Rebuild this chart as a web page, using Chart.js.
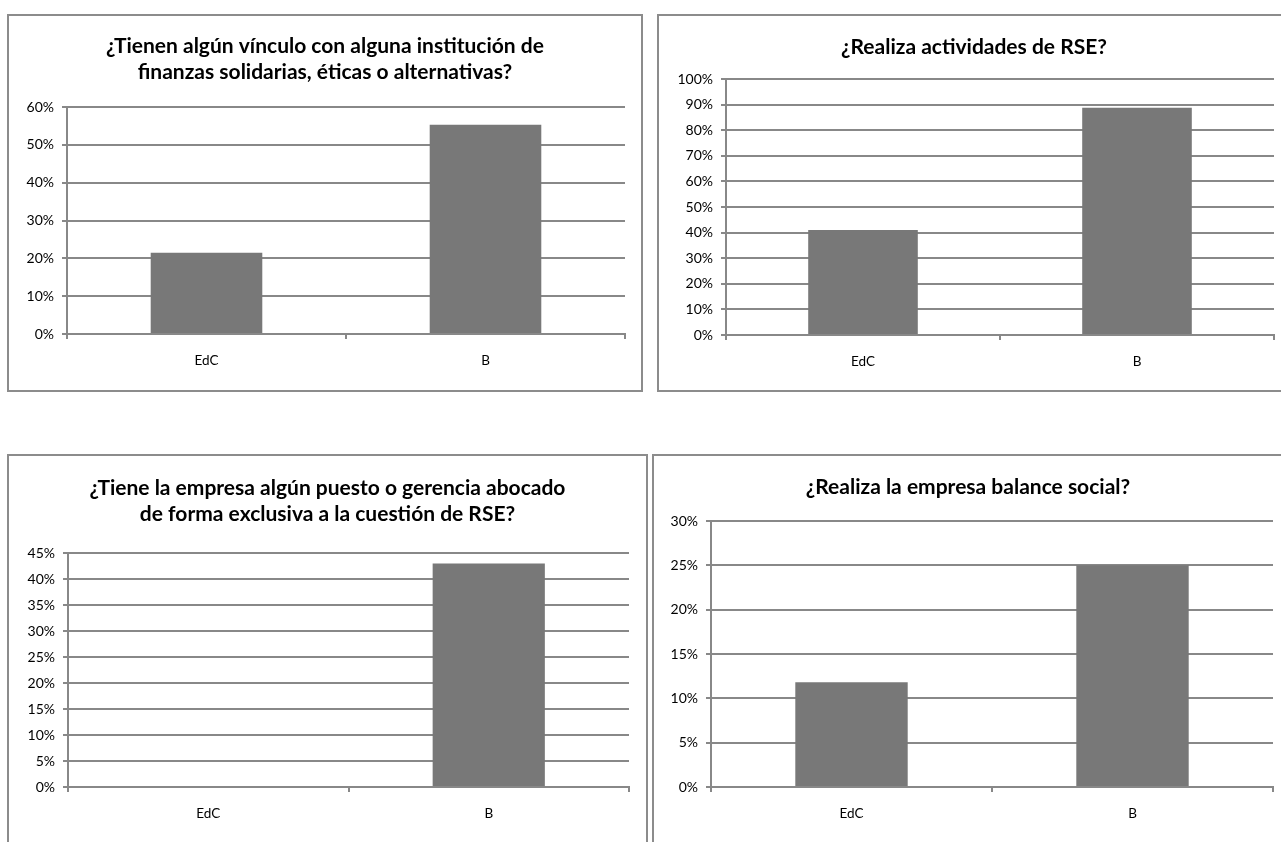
<!DOCTYPE html>
<html lang="es">
<head>
<meta charset="utf-8">
<title>Encuesta RSE: EdC y B</title>
<script src="https://cdn.jsdelivr.net/npm/chart.js@4.4.1/dist/chart.umd.min.js"></script>
<style>
  html, body { margin: 0; padding: 0; background: #ffffff; }
  body { width: 1281px; height: 842px; position: relative; overflow: hidden; }
  .panel {
    position: absolute;
    box-sizing: border-box;
    border: 2px solid #8c8c8c;
    background: #ffffff;
  }
  .panel canvas { display: block; }
</style>
</head>
<body>

<div class="panel" id="p1" style="left:7px; top:14px; width:636px; height:378px;"><canvas id="c1" width="632" height="374"></canvas></div>
<div class="panel" id="p2" style="left:657px; top:14px; width:634px; height:378px;"><canvas id="c2" width="630" height="374"></canvas></div>
<div class="panel" id="p3" style="left:7px; top:454px; width:641px; height:400px;"><canvas id="c3" width="637" height="396"></canvas></div>
<div class="panel" id="p4" style="left:652px; top:454px; width:632px; height:400px;"><canvas id="c4" width="628" height="396"></canvas></div>

<script>
// Categories shared by all four charts
const categories = ['EdC', 'B'];

// Share of companies answering "yes" (%)
const vinculoFinanzas = [21.5, 55.3];
const actividadesRSE = [41.0, 88.8];
const puestoExclusivoRSE = [0, 43.0];
const balanceSocial = [11.8, 25.0];

// Chart titles
const tituloFinanzas = ['¿Tienen algún vínculo con alguna institución de', 'finanzas solidarias, éticas o alternativas?'];
const tituloActividades = ['¿Realiza actividades de RSE?'];
const tituloPuesto = ['¿Tiene la empresa algún puesto o gerencia abocado', 'de forma exclusiva a la cuestión de RSE?'];
const tituloBalance = ['¿Realiza la empresa balance social?'];

// Value axis ranges (max, step) in %
const ejeFinanzas = [60, 10];
const ejeActividades = [100, 10];
const ejePuesto = [45, 5];
const ejeBalance = [30, 5];

const FONT = 'Lato, "Open Sans", sans-serif';
const GRID = '#888888';
const BAR = '#787878';

function barChart(canvasId, titleLines, values, axis, box) {
  const [yMax, yStep] = axis;
  const titleLineH = 26;
  const titleSize = 21;
  const titleH = box.titleTop + titleLines.length * titleLineH;
  // equal side padding keeps the title centred on the whole panel
  const side = box.rightPad;
  return new Chart(document.getElementById(canvasId), {
    type: 'bar',
    data: {
      labels: categories,
      datasets: [{
        data: values,
        backgroundColor: BAR,
        borderWidth: 0,
        barPercentage: 0.4,
        categoryPercentage: 1.0
      }]
    },
    options: {
      responsive: false,
      animation: false,
      devicePixelRatio: 1,
      layout: { padding: { left: side, top: 0, right: side, bottom: 0 } },
      plugins: {
        legend: { display: false },
        tooltip: { enabled: false },
        title: {
          display: true,
          text: titleLines,
          color: '#000000',
          font: { family: FONT, size: titleSize, weight: 'bold', lineHeight: titleLineH / titleSize },
          padding: { top: box.titleTop, bottom: box.plotTop - titleH }
        }
      },
      scales: {
        x: {
          grid: {
            offset: true,
            drawOnChartArea: false,
            drawTicks: true,
            tickLength: 5,
            color: GRID,
            lineWidth: 2
          },
          border: { display: true, color: GRID, width: 2 },
          ticks: { color: '#000000', font: { family: FONT, size: 13.5 }, padding: 14 },
          afterFit: (s) => { s.height = box.xAxisH; }
        },
        y: {
          min: 0,
          max: yMax,
          grid: {
            color: GRID,
            lineWidth: 2,
            drawTicks: true,
            tickLength: 5
          },
          border: { display: true, color: GRID, width: 2 },
          ticks: {
            stepSize: yStep,
            color: '#000000',
            font: { family: FONT, size: 14 },
            padding: 8,
            callback: (v) => v + '%'
          },
          afterFit: (s) => { s.width = box.plotLeft - side; }
        }
      }
    }
  });
}

// Plot-area placement inside each panel (pixels, relative to the canvas)
barChart('c1', tituloFinanzas, vinculoFinanzas, ejeFinanzas,
  { plotLeft: 58, rightPad: 16, plotTop: 91, xAxisH: 56, titleTop: 17 });
barChart('c2', tituloActividades, actividadesRSE, ejeActividades,
  { plotLeft: 67, rightPad: 15, plotTop: 63, xAxisH: 55, titleTop: 18 });
barChart('c3', tituloPuesto, puestoExclusivoRSE, ejePuesto,
  { plotLeft: 59, rightPad: 17, plotTop: 97, xAxisH: 65, titleTop: 19 });
barChart('c4', tituloBalance, balanceSocial, ejeBalance,
  { plotLeft: 57, rightPad: 9, plotTop: 65, xAxisH: 65, titleTop: 18 });
</script>
</body>
</html>
